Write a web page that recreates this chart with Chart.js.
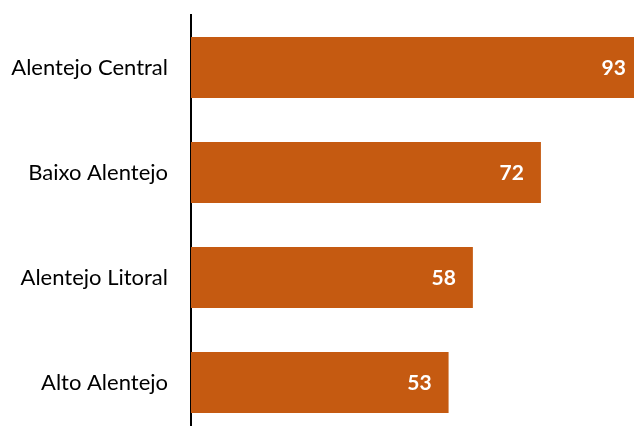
<!DOCTYPE html>
<html>
<head>
<meta charset="utf-8">
<script src="https://cdn.jsdelivr.net/npm/chart.js@4"></script>
<style>
  html, body { margin: 0; padding: 0; background: #fff; overflow: hidden; }
  #wrap { width: 634px; height: 426px; overflow: hidden; }
</style>
</head>
<body>
<div id="wrap"><canvas id="chart" width="677" height="435"></canvas></div>
<script>
const regions = ["Alentejo Central", "Baixo Alentejo", "Alentejo Litoral", "Alto Alentejo"];
const values = [93, 72, 58, 53];

const barColor = "#C55A11";

// white value labels, right aligned inside the end of each bar
const valueLabels = {
    id: "valueLabels",
    afterDatasetsDraw(chart) {
        const ctx = chart.ctx;
        const meta = chart.getDatasetMeta(0);
        ctx.save();
        ctx.fillStyle = "#ffffff";
        ctx.font = "bold 21px Lato";
        ctx.textAlign = "right";
        ctx.textBaseline = "middle";
        meta.data.forEach((bar, i) => {
            ctx.fillText(String(values[i]), bar.x - 17, bar.y + 1);
        });
        ctx.restore();
    }
};

const ctx = document.getElementById("chart").getContext("2d");
new Chart(ctx, {
    type: "bar",
    data: {
        labels: regions,
        datasets: [{
            data: values,
            backgroundColor: barColor,
            borderWidth: 0,
            categoryPercentage: 1,
            barPercentage: 0.58
        }]
    },
    options: {
        indexAxis: "y",
        responsive: false,
        animation: false,
        layout: { padding: { top: 15, right: 0, bottom: 0, left: 0 } },
        plugins: {
            legend: { display: false },
            tooltip: { enabled: false }
        },
        scales: {
            x: {
                display: false,
                min: 0,
                max: 100
            },
            y: {
                afterFit(scale) {
                    // fixed label column, and no extra vertical padding from the tick labels
                    scale.width = 191;
                    scale.paddingTop = 0;
                    scale.paddingBottom = 0;
                },
                grid: { display: false, drawTicks: false },
                border: { display: true, color: "#000", width: 2 },
                ticks: {
                    color: "#000",
                    padding: 23,
                    font: { family: "Lato", size: 22 }
                }
            }
        }
    },
    plugins: [valueLabels]
});
</script>
</body>
</html>
